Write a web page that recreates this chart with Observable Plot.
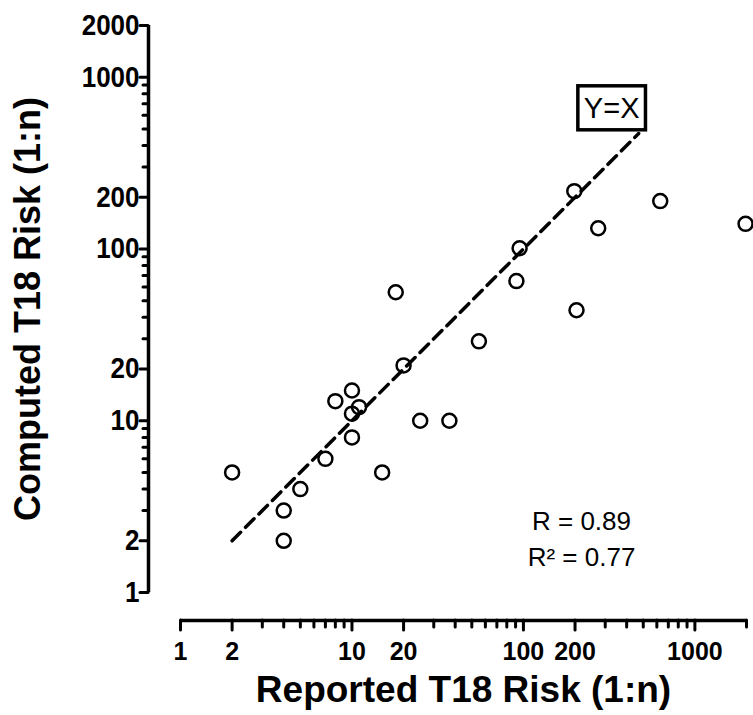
<!DOCTYPE html>
<html>
<head>
<meta charset="utf-8">
<script src="https://cdn.jsdelivr.net/npm/d3@7"></script>
<script src="https://cdn.jsdelivr.net/npm/@observablehq/plot@0.6"></script>
<style>
  body { margin: 0; background: #fff; }
  #chart svg { font-family: "Liberation Sans", Arial, sans-serif; }
</style>
</head>
<body>
<div id="chart"></div>
<script>
// Reported vs computed T18 risk (1:n)
const reported = [2, 4, 4, 5, 7, 8, 10, 10, 11, 10, 15, 18, 20, 25, 37, 55, 91, 95, 198, 204, 273, 628, 1975];
const computed = [5, 3, 2, 4, 6, 13, 15, 11, 12, 8, 5, 56, 21, 10, 10, 29, 65, 101, 217, 44, 132, 190, 140];

const xDomain = [1, 2000];
const yDomain = [1, 2000];
const xTicks = [1, 2, 10, 20, 100, 200, 1000];
const xMinorTicks = [3, 4, 5, 6, 7, 8, 9, 30, 40, 50, 60, 70, 80, 90, 300, 400, 500, 600, 700, 800, 900, 2000];
const yTicks = [1, 2, 10, 20, 100, 200, 1000, 2000];
const yMinorTicks = [3, 4, 5, 6, 7, 8, 9, 30, 40, 50, 60, 70, 80, 90, 300, 400, 500, 600, 700, 800, 900];

const identityLine = [2, 470];       // Y = X reference line extent
const identityLabel = ["Y=X"];
const statsText = ["R = 0.89\nR\u00B2 = 0.77"];
const xTitle = "Reported T18 Risk (1:n)";
const yTitle = "Computed T18 Risk (1:n)";

const points = reported.map((r, i) => ({reported: r, computed: computed[i]}));
const xMid = Math.sqrt(xDomain[0] * xDomain[1]);
const yMid = Math.sqrt(yDomain[0] * yDomain[1]);

const tickStyle = {strokeWidth: 3, strokeLinecap: "round", stroke: "#000", label: null};

const plot = Plot.plot({
  width: 753,
  height: 715,
  marginTop: 20,
  marginBottom: 95,
  marginLeft: 148,
  marginRight: 5,
  style: {fontFamily: "Liberation Sans, Arial, sans-serif", background: "#fff", color: "#000"},
  x: {type: "log", domain: xDomain, range: [180, 746]},
  y: {type: "log", domain: yDomain, range: [592, 25]},
  marks: [
    // axis lines (offset Prism style)
    Plot.ruleX([xDomain[0]], {y1: yDomain[0], y2: yDomain[1], dx: -32, stroke: "#000", strokeWidth: 3.5}),
    Plot.ruleY([yDomain[0]], {x1: xDomain[0], x2: xDomain[1], dy: 28, stroke: "#000", strokeWidth: 3.5}),
    // y axis
    Plot.axisY({...tickStyle, ticks: yMinorTicks, tickSize: 5, tickFormat: () => ""}),
    Plot.axisY({...tickStyle, ticks: yTicks, tickSize: 8, tickPadding: 1, tickFormat: d => String(d),
      fontSize: 26, fontWeight: "bold", fill: "#000"}),
    // x axis
    Plot.axisX({...tickStyle, ticks: xMinorTicks, tickSize: 7, tickFormat: () => ""}),
    Plot.axisX({...tickStyle, ticks: xTicks, tickSize: 10, tickPadding: 12, tickFormat: d => String(d),
      fontSize: 25, fontWeight: "bold", fill: "#000"}),
    // titles
    Plot.text([xTitle], {x: xMid, frameAnchor: "bottom", dy: 70, lineAnchor: "middle", textAnchor: "middle",
      text: d => d, fontSize: 37, fontWeight: "bold", fill: "#000", className: "ttl"}),
    Plot.text([yTitle], {y: yMid, frameAnchor: "left", dx: -120, rotate: -90, textAnchor: "middle",
      lineAnchor: "middle", text: d => d, fontSize: 36, fontWeight: "bold", fill: "#000", className: "ttl"}),
    // identity line
    Plot.line(identityLine, {x: d => d, y: d => d, stroke: "#000", strokeWidth: 3.5, strokeDasharray: "12,7"}),
    // label for identity line
    Plot.text(identityLabel, {x: () => identityLine[1], y: () => identityLine[1], text: d => d,
      dx: -27, dy: -25, fontSize: 29, fill: "#000", className: "yx-label"}),
    // points
    Plot.dot(points, {x: "reported", y: "computed", r: 7, stroke: "#000", strokeWidth: 2.5, fill: "none"}),
    // statistics
    Plot.text(statsText, {frameAnchor: "bottom-right", dx: -167, dy: -84, textAnchor: "middle",
      lineAnchor: "middle", text: d => d, fontSize: 26, lineHeight: 1.4, fill: "#000", className: "stats"})
  ]
});

document.getElementById("chart").append(plot);

// make the y tick labels a little taller, like the reference lettering
const svgBox = plot.getBoundingClientRect();
plot.querySelectorAll("text").forEach(t => {
  if (t.closest(".ttl, .yx-label, .stats")) return;
  const s = t.textContent.trim();
  if (!/^\d+$/.test(s)) return;
  const r = t.getBoundingClientRect();
  if (r.right - svgBox.left < 150) {
    const tr = t.getAttribute("transform") || "";
    t.setAttribute("transform", tr + " scale(1,1.12)");
  }
});

// draw a box around the Y=X label
const labelText = plot.querySelector(".yx-label text");
if (labelText) {
  const bb = labelText.getBBox();
  const padX = 6, padY = 8;
  const rect = document.createElementNS("http://www.w3.org/2000/svg", "rect");
  rect.setAttribute("x", bb.x - padX);
  rect.setAttribute("y", bb.y - padY + 2);
  rect.setAttribute("width", bb.width + 2 * padX);
  rect.setAttribute("height", bb.height + 2 * padY - 4);
  rect.setAttribute("fill", "#fff");
  rect.setAttribute("stroke", "#000");
  rect.setAttribute("stroke-width", 3.5);
  const tr = labelText.getAttribute("transform");
  if (tr) rect.setAttribute("transform", tr);
  labelText.parentNode.insertBefore(rect, labelText);
}
</script>
</body>
</html>
